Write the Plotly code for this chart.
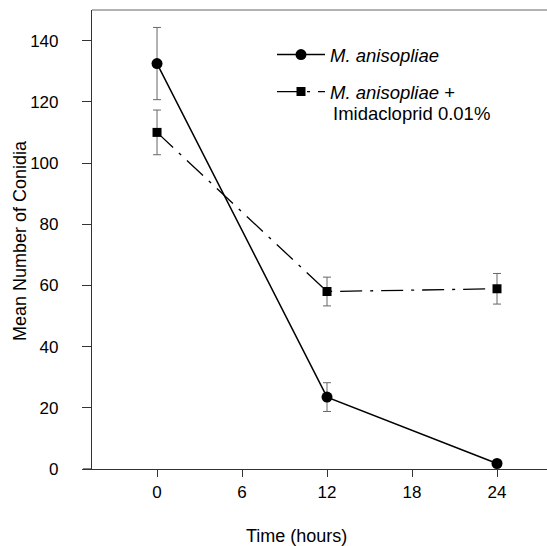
import plotly.graph_objects as go

# ---- data ----
time_h = [0, 12, 24]
ma_mean = [132.5, 23.5, 1.8]
ma_err = [11.8, 4.7, 0.0]
mi_mean = [110.0, 58.0, 58.9]
mi_err = [7.3, 4.7, 5.0]
x_ticks = [0, 6, 12, 18, 24]
y_ticks = [0, 20, 40, 60, 80, 100, 120, 140]
name_ma = "<i>M. anisopliae</i>"
name_mi = "<i>M. anisopliae</i> +"
name_mi_line2 = "Imidacloprid 0.01%"

FONT = "Liberation Sans, Arial, sans-serif"
AX = "#333333"

fig = go.Figure()
fig.add_trace(go.Scatter(
    x=time_h, y=ma_mean, name=name_ma, mode="lines+markers",
    line=dict(color="black", width=1.5),
    marker=dict(symbol="circle", size=11, color="black"),
    error_y=dict(type="data", array=ma_err, visible=True, color="#666666", thickness=1, width=4),
    legend="legend",
))
fig.add_trace(go.Scatter(
    x=time_h, y=mi_mean, name=name_mi, mode="lines+markers",
    line=dict(color="black", width=1.3, dash="22px,8px,3px,8px"),
    marker=dict(symbol="square", size=9, color="black"),
    error_y=dict(type="data", array=mi_err, visible=True, color="#666666", thickness=1, width=4),
    legend="legend2",
))

W, H = 547, 546
L, R, T, B = 92, 0, 10, 77
pw = W - L - R
ph = H - T - B

def px_x(px):
    return (px - L) / pw

def px_y(py):
    return (H - B - py) / ph

LEG_FS = 18.5

fig.update_layout(
    width=W, height=H,
    margin=dict(l=L, r=R, t=T, b=B),
    paper_bgcolor="white", plot_bgcolor="white",
    font=dict(family=FONT, size=16, color="black"),
    xaxis=dict(
        range=[-4.59, 27.53], tickvals=x_ticks, ticks="outside", ticklen=7,
        tickcolor=AX, showline=True, linecolor=AX, linewidth=1.2,
        showgrid=False, zeroline=False, ticklabelstandoff=0,
        tickfont=dict(size=17),
    ),
    yaxis=dict(
        range=[0, 150], tickvals=y_ticks, ticks="outside", ticklen=9,
        tickcolor=AX, showline=True, linecolor=AX, linewidth=1.2,
        showgrid=False, zeroline=False, ticklabelstandoff=20,
        tickfont=dict(size=17),
    ),
    legend=dict(
        x=px_x(272), y=px_y(36), xanchor="left", yanchor="top",
        bgcolor="rgba(0,0,0,0)", itemwidth=48, font=dict(size=LEG_FS),
    ),
    legend2=dict(
        x=px_x(272), y=px_y(73), xanchor="left", yanchor="top",
        bgcolor="rgba(0,0,0,0)", itemwidth=48, font=dict(size=LEG_FS),
    ),
    showlegend=True,
)

# top frame line and short extension of x axis line to the left
fig.add_shape(type="line", xref="paper", yref="paper", x0=0, x1=1, y0=1, y1=1,
              line=dict(color="#666666", width=1.2))
fig.add_shape(type="line", xref="paper", yref="paper", x0=px_x(83), x1=0, y0=0, y1=0,
              line=dict(color=AX, width=1.2))

# second line of the second legend entry
fig.add_annotation(text=name_mi_line2, xref="paper", yref="paper",
                   x=px_x(331), y=px_y(113), showarrow=False,
                   xanchor="left", yanchor="middle", font=dict(size=LEG_FS))

# axis titles
fig.add_annotation(text="Time (hours)", xref="paper", yref="paper",
                   x=px_x(296), y=px_y(536), showarrow=False,
                   xanchor="center", yanchor="middle", font=dict(size=18))
fig.add_annotation(text="Mean Number of Conidia", xref="paper", yref="paper",
                   x=px_x(20), y=px_y(241), showarrow=False, textangle=-90,
                   xanchor="center", yanchor="middle", font=dict(size=18))

fig.write_html("out.html")
